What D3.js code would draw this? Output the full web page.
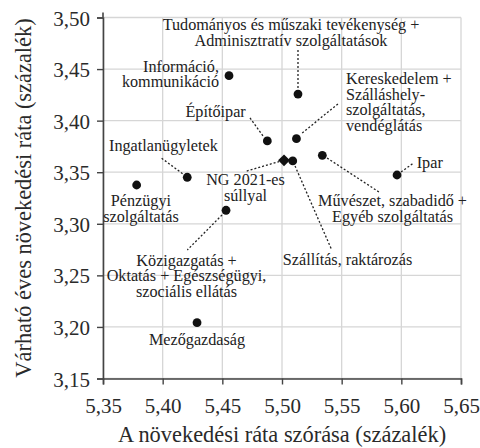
<!DOCTYPE html>
<html>
<head>
<meta charset="utf-8">
<script src="https://cdn.jsdelivr.net/npm/d3@7"></script>
<style>
  html, body { margin: 0; padding: 0; background: #fff; }
  svg { display: block; }
</style>
</head>
<body>
<svg id="chart" width="480" height="448"></svg>
<script>
// ---- data ----
const sectors = [
  "Információ, kommunikáció",
  "Tudományos és műszaki tevékenység + Adminisztratív szolgáltatások",
  "Kereskedelem + Szálláshely-szolgáltatás, vendéglátás",
  "Építőipar",
  "NG 2021-es súllyal",
  "Szállítás, raktározás",
  "Művészet, szabadidő + Egyéb szolgáltatás",
  "Ipar",
  "Ingatlanügyletek",
  "Pénzügyi szolgáltatás",
  "Közigazgatás + Oktatás + Egészségügyi, szociális ellátás",
  "Mezőgazdaság"
];
const stdDev = [5.4556, 5.5134, 5.5121, 5.4877, 5.5017, 5.5090, 5.5338, 5.5964, 5.4206, 5.3782, 5.4531, 5.4288];
const growth = [3.4436, 3.4258, 3.3825, 3.3803, 3.3615, 3.3609, 3.3664, 3.3473, 3.3451, 3.3376, 3.3131, 3.2041];
const isAggregate = [false, false, false, false, true, false, false, false, false, false, false, false];
const xTicks = [5.35, 5.40, 5.45, 5.50, 5.55, 5.60, 5.65];
const yTicks = [3.15, 3.20, 3.25, 3.30, 3.35, 3.40, 3.45, 3.50];
const xTitle = "A növekedési ráta szórása (százalék)";
const yTitle = "Várható éves növekedési ráta (százalék)";

// ---- label layout (text lines, pixel offsets from the point) ----
const labelLayout = [
  { lines: ["Információ,", "kommunikáció"], anchor: "end", dx: -10, dy: -4 },
  { lines: ["Tudományos és műszaki tevékenység +", "Adminisztratív szolgáltatások"], anchor: "middle", dx: -7, dy: -64, leader: [0, -44, 0, -6] },
  { lines: ["Kereskedelem +", "Szálláshely-", "szolgáltatás,", "vendéglátás"], anchor: "start", dx: 49.5, dy: -54.7, leader: [41.5, -34.7, 4.5, -4.7] },
  { lines: ["Építőipar"], anchor: "end", dx: -21.6, dy: -24, leader: [-17.3, -23, -4.3, -5] },
  { lines: ["NG 2021-es", "súllyal"], anchor: "middle", dx: -38.5, dy: 25, leader: [-37.3, 10.7, -5, 1.2] },
  { lines: ["Szállítás, raktározás"], anchor: "middle", dx: 54.8, dy: 104, leader: [2.3, 5, 39, 89] },
  { lines: ["Művészet, szabadidő +", "Egyéb szolgáltatás"], anchor: "middle", dx: 70.2, dy: 50.7, leader: [4.7, 2.7, 57.7, 37.4] },
  { lines: ["Ipar"], anchor: "start", dx: 19.7, dy: -6.7, leader: [4, -3, 17, -12.3] },
  { lines: ["Ingatlanügyletek"], anchor: "middle", dx: -23.8, dy: -26.6, leader: [-25.6, -19, -4.3, -3.3] },
  { lines: ["Pénzügyi", "szolgáltatás"], anchor: "middle", dx: 4.3, dy: 21 },
  { lines: ["Közigazgatás +", "Oktatás + Egészségügyi,", "szociális ellátás"], anchor: "middle", dx: -39.5, dy: 55.4, leader: [-4, 4.7, -38.7, 39.7] },
  { lines: ["Mezőgazdaság"], anchor: "middle", dx: 0, dy: 22.3 }
];

// ---- chart ----
const FONT = "\"Liberation Serif\", \"Times New Roman\", serif";
const svg = d3.select("#chart");
const margin = { left: 103, right: 19, top: 17.5, bottom: 69.5 };
const W = 480, H = 448;
const x = d3.scaleLinear().domain([5.35, 5.65]).range([margin.left, W - margin.right]);
const y = d3.scaleLinear().domain([3.15, 3.50]).range([H - margin.bottom, margin.top]);

const labelSize = 16.2, tickSize = 21, titleSize = 22.4;

const grid = svg.append("g");
grid.selectAll("line.vx").data(xTicks).join("line")
  .attr("x1", d => x(d)).attr("x2", d => x(d))
  .attr("y1", y(3.50)).attr("y2", y(3.15))
  .attr("stroke", "#d6d6d6").attr("stroke-width", 1.3);
grid.selectAll("line.hy").data(yTicks).join("line")
  .attr("y1", d => y(d)).attr("y2", d => y(d))
  .attr("x1", x(5.35)).attr("x2", x(5.65))
  .attr("stroke", "#d6d6d6").attr("stroke-width", 1.3);

const fmt = d => d3.format(".2f")(d).replace(".", ",");

const xAxis = svg.append("g").attr("transform", `translate(0,${y(3.15)})`)
  .call(d3.axisBottom(x).tickValues(xTicks).tickFormat(fmt).tickSizeOuter(0).tickSize(6).tickPadding(6));
const yAxis = svg.append("g").attr("transform", `translate(${x(5.35)},0)`)
  .call(d3.axisLeft(y).tickValues(yTicks).tickFormat(fmt).tickSizeOuter(0).tickSize(6).tickPadding(7));
[xAxis, yAxis].forEach(a => {
  a.attr("font-family", null);
  a.select(".domain").attr("stroke", "#444").attr("stroke-width", 1.6);
  a.selectAll(".tick line").attr("stroke", "#444").attr("stroke-width", 1.4);
  a.selectAll(".tick text").attr("fill", "#2a2a2a")
    .style("font-family", FONT).style("font-size", tickSize + "px");
});
xAxis.selectAll(".tick text").attr("dy", null).attr("y", 34);
yAxis.selectAll(".tick text").attr("dy", "0.36em");
// small extension of left axis line above the top
svg.append("line").attr("x1", x(5.35)).attr("x2", x(5.35))
  .attr("y1", y(3.50) - 5).attr("y2", y(3.50))
  .attr("stroke", "#444").attr("stroke-width", 1.6);

// axis titles
svg.append("text").attr("x", (x(5.35) + x(5.65)) / 2).attr("y", 442)
  .attr("text-anchor", "middle").attr("fill", "#2a2a2a")
  .style("font-family", FONT).style("font-size", titleSize + "px").text(xTitle);
svg.append("text")
  .attr("transform", `translate(31,${(y(3.15) + y(3.50)) / 2}) rotate(-90)`)
  .attr("text-anchor", "middle").attr("fill", "#2a2a2a")
  .style("font-family", FONT).style("font-size", titleSize + "px").text(yTitle);

// data points
const pts = sectors.map((s, i) => ({ name: s, x: stdDev[i], y: growth[i], agg: isAggregate[i], lay: labelLayout[i] }));

// leaders
svg.append("g").selectAll("line").data(pts.filter(p => p.lay.leader)).join("line")
  .attr("x1", p => x(p.x) + p.lay.leader[0]).attr("y1", p => y(p.y) + p.lay.leader[1])
  .attr("x2", p => x(p.x) + p.lay.leader[2]).attr("y2", p => y(p.y) + p.lay.leader[3])
  .attr("stroke", "#222").attr("stroke-width", 1.3).attr("stroke-dasharray", "2,2");

const marks = svg.append("g");
marks.selectAll("circle").data(pts.filter(p => !p.agg)).join("circle")
  .attr("cx", p => x(p.x)).attr("cy", p => y(p.y)).attr("r", 4.4).attr("fill", "#111");
marks.selectAll("path").data(pts.filter(p => p.agg)).join("path")
  .attr("d", d3.symbol(d3.symbolDiamond2, 90)())
  .attr("transform", p => `translate(${x(p.x)},${y(p.y)})`).attr("fill", "#111");

// labels
const lg = svg.append("g");
pts.forEach(p => {
  const t = lg.append("text")
    .attr("x", x(p.x) + p.lay.dx).attr("y", y(p.y) + p.lay.dy)
    .attr("text-anchor", p.lay.anchor).attr("fill", "#222")
    .style("font-family", FONT).style("font-size", labelSize + "px");
  p.lay.lines.forEach((ln, k) => {
    t.append("tspan").attr("x", x(p.x) + p.lay.dx)
      .attr("dy", k === 0 ? 0 : 15.7).text(ln);
  });
});
</script>
</body>
</html>
